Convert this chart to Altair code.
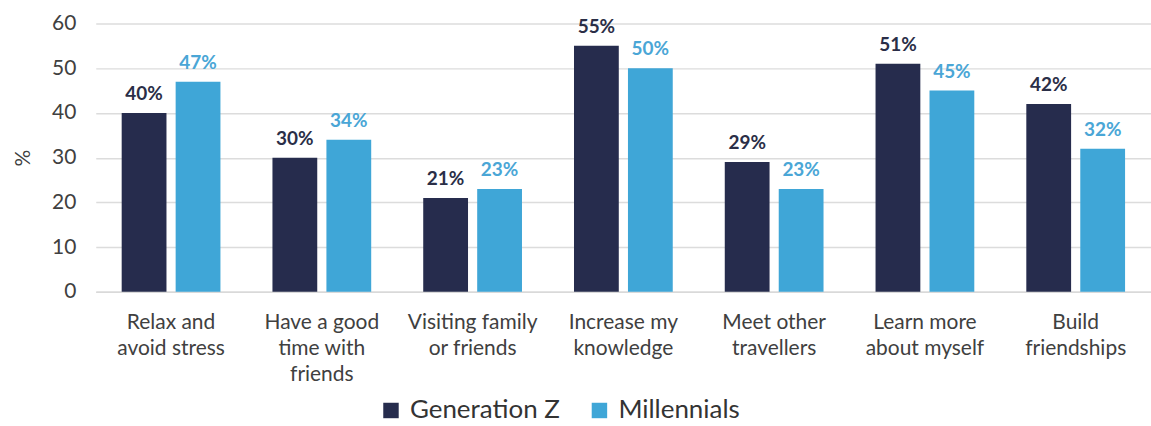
import altair as alt
import pandas as pd

categories = [
    "Relax and\navoid stress",
    "Have a good\ntime with\nfriends",
    "Visiting family\nor friends",
    "Increase my\nknowledge",
    "Meet other\ntravellers",
    "Learn more\nabout myself",
    "Build\nfriendships",
]
series = ["Generation Z", "Millennials"]
gen_z = [40, 30, 21, 55, 29, 51, 42]
millennials = [47, 34, 23, 50, 23, 45, 32]
colors = ["#262c4d", "#3fa6d7"]
label_colors = ["#2a2e47", "#4aa6d6"]

rows = []
for i, c in enumerate(categories):
    rows.append({"cat": c, "series": series[0], "value": gen_z[i]})
    rows.append({"cat": c, "series": series[1], "value": millennials[i]})
df = pd.DataFrame(rows)

FONT = "Lato"

x = alt.X(
    "cat:N",
    sort=categories,
    scale=alt.Scale(paddingInner=0.345, paddingOuter=0.172),
    axis=alt.Axis(
        title=None,
        labelAngle=0,
        labelExpr="split(datum.label, '\\n')",
        labelFont=FONT,
        labelFontSize=21,
        labelColor="#404040",
        labelLineHeight=26,
        labelPadding=20,
        ticks=False,
        domain=True,
        domainColor="#d9d9d9",
        domainWidth=1.5,
        labelLimit=300,
    ),
)
xoff = alt.XOffset(
    "series:N",
    sort=series,
    scale=alt.Scale(paddingInner=0.17, paddingOuter=0),
)
y = alt.Y(
    "value:Q",
    scale=alt.Scale(domain=[0, 60]),
    axis=alt.Axis(
        title="%",
        titleFont=FONT,
        titleFontSize=21,
        titleFontWeight="normal",
        titleColor="#404040",
        titleAngle=-90,
        titlePadding=18,
        values=[0, 10, 20, 30, 40, 50, 60],
        labelFont=FONT,
        labelFontSize=21,
        labelColor="#404040",
        labelPadding=20,
        ticks=False,
        domain=False,
        grid=True,
        gridColor="#dcdcdc",
        gridWidth=1.5,
    ),
)

color = alt.Color(
    "series:N",
    sort=series,
    scale=alt.Scale(domain=series, range=colors),
    legend=alt.Legend(
        title=None,
        orient="none",
        legendX=283,
        legendY=375,
        direction="horizontal",
        symbolType="square",
        symbolSize=240,
        symbolStrokeWidth=0,
        labelFont=FONT,
        labelFontSize=26,
        labelColor="#333333",
        columnPadding=26,
        labelOffset=6,
    ),
)

base = alt.Chart(df)
bars = base.mark_bar().encode(x=x, xOffset=xoff, y=y, color=color)
labels = base.transform_calculate(pct="datum.value + '%'").mark_text(
    baseline="bottom", dy=-9, font=FONT, fontSize=19, fontWeight="bold"
).encode(
    x=x,
    xOffset=xoff,
    y=y,
    text="pct:N",
    color=alt.Color("series:N", scale=alt.Scale(domain=series, range=label_colors), legend=None),
)

chart = (
    alt.layer(bars, labels)
    .resolve_scale(color="independent")
    .properties(
        width=1058,
        height=269,
        autosize=alt.AutoSizeParams(type="none"),
        padding={"left": 96, "top": 23, "right": 0, "bottom": 134},
        background="white",
    )
    .configure_view(stroke=None)
)

chart.save("out.html", embed_options={"renderer": "svg", "actions": False})
